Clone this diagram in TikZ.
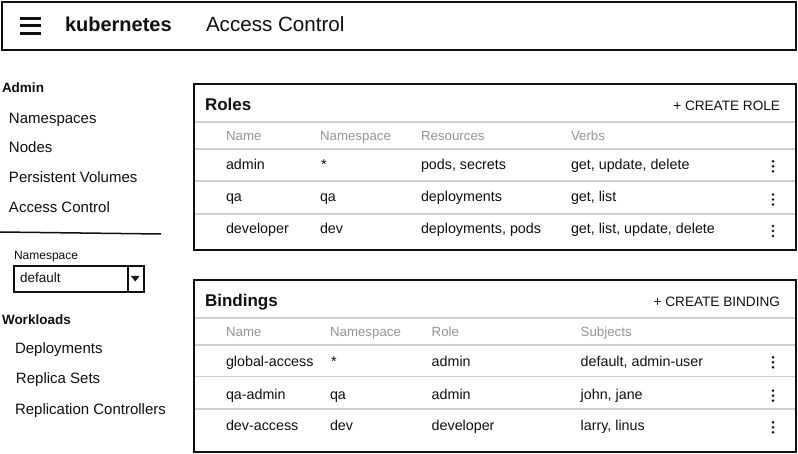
\documentclass[tikz,border=0pt]{standalone}
\usepackage{fontspec}
\setmainfont{Liberation Sans}
\definecolor{ink}{HTML}{101010}
\definecolor{hdr}{HTML}{969696}
\definecolor{sepc}{HTML}{CFCFCF}
\begin{document}
\begin{tikzpicture}[x=1pt,y=-1pt,
  txt/.style={anchor=base west,inner sep=0pt,outer sep=0pt,text=ink},
  side/.style={txt,font=\fontsize{15}{18}\selectfont},
  sidehead/.style={txt,font=\bfseries\fontsize{13.5}{16}\selectfont},
  cell/.style={txt,font=\fontsize{14.3}{17}\selectfont},
  colhead/.style={txt,text=hdr,font=\fontsize{13.3}{16}\selectfont},
  ptitle/.style={txt,font=\bfseries\fontsize{17}{20}\selectfont},
  action/.style={anchor=base east,inner sep=0pt,outer sep=0pt,text=ink,font=\fontsize{13.6}{16}\selectfont},
  panel/.style={draw=ink,line width=2pt},
  sepline/.style={draw=sepc,line width=1.8pt},
  kdot/.style={fill=ink}
]
\useasboundingbox (0,0) rectangle (798,454);
\fill[white] (0,0) rectangle (798,454);

% ---------- top bar ----------
\draw[panel] (2,2) rectangle (796,50.5);
\foreach \yy in {18.5,26,33.5} \draw[ink,line width=3pt] (20,\yy) -- (40.5,\yy);
\node[txt,font=\bfseries\fontsize{20}{24}\selectfont] (brand) at (65,32) {kubernetes};
\node[txt,font=\fontsize{20.6}{24}\selectfont] (title) at (206,32) {Access Control};

% ---------- sidebar ----------
\node[sidehead] (admin) at (2,93) {Admin};
\node[side] (ns) at (9,123.5) {Namespaces};
\node[side] (nodes) at (9,153) {Nodes};
\node[side] (pv) at (9,182.5) {Persistent Volumes};
\node[side] (ac) at (9,212.5) {Access Control};
\draw[ink,line width=1.5pt] (0,232) -- (161,234);
\node[txt,font=\fontsize{12}{14}\selectfont] (nslbl) at (14,260) {Namespace};
\draw[ink,line width=1.8pt] (14,266) rectangle (144,292);
\draw[ink,line width=1.5pt] (128,266) -- (128,292);
\fill[ink] (131,276) -- (139.5,276) -- (135.25,281.5) -- cycle;
\node[txt,font=\fontsize{13.5}{16}\selectfont] (nsval) at (20,283) {default};
\node[sidehead] (wl) at (2,325) {Workloads};
\node[side] (dep) at (15,354) {Deployments};
\node[side] (rs) at (16,383.5) {Replica Sets};
\node[side] (rc) at (15,414) {Replication Controllers};

% ---------- Roles panel ----------
\foreach \yy in {122.3,148.7,180.7,213.7} \draw[sepline] (195,\yy) -- (795,\yy);
\draw[panel] (194,84) rectangle (796,250);
\node[ptitle] (roles) at (205,110.3) {Roles};
\node[action] (newrole) at (780,110.3) {+ CREATE ROLE};
\node[colhead] (rh1) at (226,140.3) {Name};
\node[colhead] (rh2) at (320,140.3) {Namespace};
\node[colhead] (rh3) at (421,140.3) {Resources};
\node[colhead] (rh4) at (571,140.3) {Verbs};
\node[cell] (r1a) at (226,170) {admin};
\node[cell] (r1b) at (321,170) {*};
\node[cell] (r1c) at (421,170) {pods, secrets};
\node[cell] (r1d) at (571,170) {get, update, delete};
\node[cell] (r2a) at (226,202) {qa};
\node[cell] (r2b) at (320,202) {qa};
\node[cell] (r2c) at (421,202) {deployments};
\node[cell] (r2d) at (571,202) {get, list};
\node[cell] (r3a) at (226,234) {developer};
\node[cell] (r3b) at (320,234) {dev};
\node[cell] (r3c) at (421,234) {deployments, pods};
\node[cell] (r3d) at (571,234) {get, list, update, delete};
\foreach \yy in {166.3,199.5,231} {
  \fill[kdot] (773,{\yy-5}) circle (1.45);
  \fill[kdot] (773,\yy) circle (1.45);
  \fill[kdot] (773,{\yy+5}) circle (1.45);
}

% ---------- Bindings panel ----------
\foreach \yy in {318.3,344.7,376.5,409} \draw[sepline] (195,\yy) -- (795,\yy);
\draw[panel] (194,280) rectangle (796,452.3);
\node[ptitle] (bind) at (205,306.3) {Bindings};
\node[action] (newbind) at (780,306.3) {+ CREATE BINDING};
\node[colhead] (bh1) at (226,336.3) {Name};
\node[colhead] (bh2) at (330,336.3) {Namespace};
\node[colhead] (bh3) at (431.7,336.3) {Role};
\node[colhead] (bh4) at (580.7,336.3) {Subjects};
\node[cell] (b1a) at (226,366.3) {global-access};
\node[cell] (b1b) at (331,366.3) {*};
\node[cell] (b1c) at (431.7,366.3) {admin};
\node[cell] (b1d) at (580.7,366.3) {default, admin-user};
\node[cell] (b2a) at (226,399) {qa-admin};
\node[cell] (b2b) at (330,399) {qa};
\node[cell] (b2c) at (431.7,399) {admin};
\node[cell] (b2d) at (580.7,399) {john, jane};
\node[cell] (b3a) at (226,430.7) {dev-access};
\node[cell] (b3b) at (330,430.7) {dev};
\node[cell] (b3c) at (431.7,430.7) {developer};
\node[cell] (b3d) at (580.7,430.7) {larry, linus};
\foreach \yy in {362.3,395.7,427.3} {
  \fill[kdot] (773,{\yy-5}) circle (1.45);
  \fill[kdot] (773,\yy) circle (1.45);
  \fill[kdot] (773,{\yy+5}) circle (1.45);
}
\end{tikzpicture}
\end{document}
